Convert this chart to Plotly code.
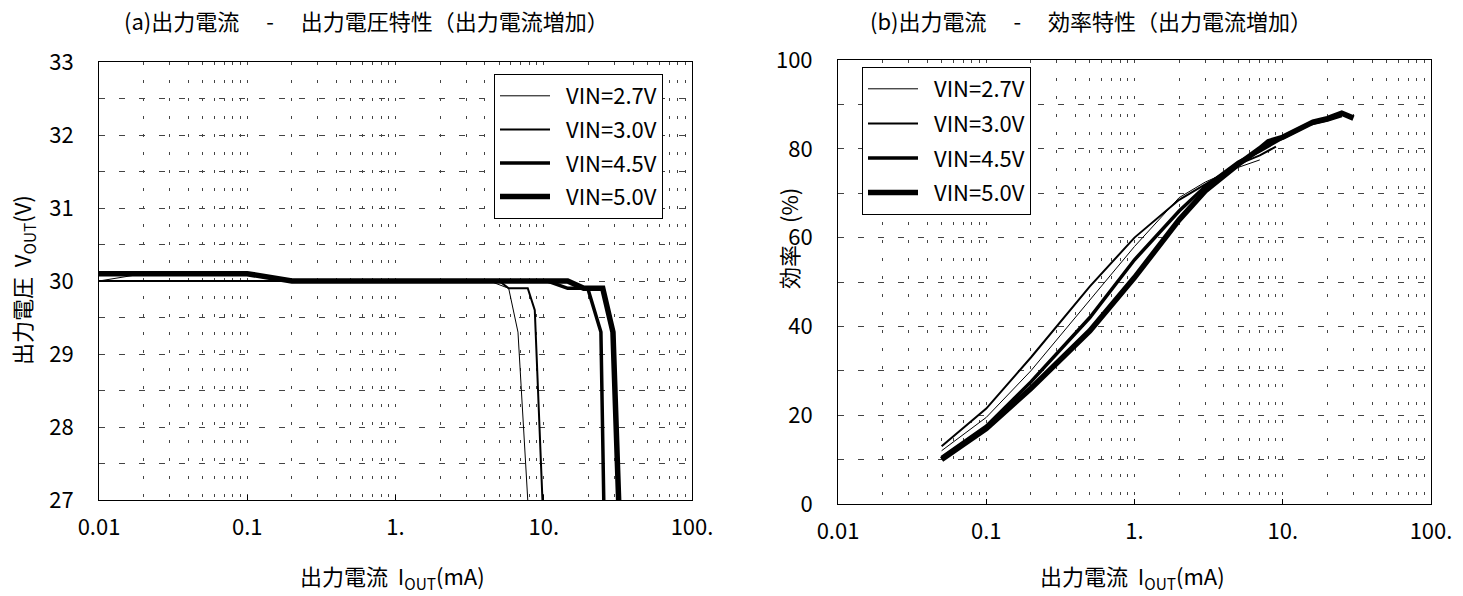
import numpy as np
import plotly.graph_objects as go

# ---------------- data ----------------
legend_names = ["VIN=2.7V", "VIN=3.0V", "VIN=4.5V", "VIN=5.0V"]

# (a) output current (mA) vs output voltage (V)
a27_i = [0.01, 0.02, 0.05, 0.1, 0.2, 0.5, 1, 2, 4.3, 5.8, 6.7, 7.8]
a27_v = [30.0, 30.1, 30.1, 30.1, 30.0, 30.0, 30.0, 30.0, 30.0, 29.9, 29.3, 27.0]
a30_i = [0.01, 0.02, 0.05, 0.1, 0.2, 0.5, 1, 2, 5.0, 5.8, 7.8, 8.7, 9.8]
a30_v = [30.0, 30.0, 30.0, 30.0, 30.0, 30.0, 30.0, 30.0, 30.0, 29.9, 29.9, 29.6, 27.0]
a45_i = [0.01, 0.02, 0.05, 0.1, 0.2, 0.5, 1, 2, 5, 10.6, 14.5, 19.8, 24.3, 25.4]
a45_v = [30.1, 30.1, 30.1, 30.1, 30.0, 30.0, 30.0, 30.0, 30.0, 30.0, 29.9, 29.9, 29.3, 27.0]
a50_i = [0.01, 0.02, 0.05, 0.1, 0.2, 0.5, 1, 2, 5, 10, 14.5, 18.6, 25, 29.3, 32]
a50_v = [30.1, 30.1, 30.1, 30.1, 30.0, 30.0, 30.0, 30.0, 30.0, 30.0, 30.0, 29.9, 29.9, 29.3, 27.0]

# (b) output current (mA) vs efficiency (%)
b27_i = [0.05, 0.1, 0.2, 0.5, 1, 2, 3, 5, 7]
b27_e = [12.0, 19.5, 30.0, 46.0, 58.0, 69.0, 72.5, 75.8, 77.5]
b30_i = [0.05, 0.1, 0.2, 0.5, 1, 2, 3, 5, 7, 9]
b30_e = [13.0, 21.5, 33.0, 49.0, 60.0, 68.5, 72.0, 76.5, 78.5, 80.5]
b45_i = [0.05, 0.1, 0.2, 0.5, 1, 2, 3, 5, 7, 10, 15, 20, 25]
b45_e = [10.5, 17.5, 27.5, 42.0, 55.0, 66.0, 71.5, 77.0, 79.5, 82.5, 85.5, 86.5, 87.5]
b50_i = [0.05, 0.1, 0.2, 0.5, 1, 2, 3, 5, 7, 8, 10, 12, 16, 20, 25, 30]
b50_e = [10.0, 17.0, 26.0, 39.0, 51.0, 64.0, 70.5, 76.5, 80.0, 81.6, 82.6, 84.0, 86.0, 86.8, 88.0, 86.9]

x_tickvals = [0.01, 0.1, 1, 10, 100]
x_ticktext = ["0.01", "0.1", "1.", "10.", "100."]
ya_tickvals = [27, 28, 29, 30, 31, 32, 33]
yb_tickvals = [0, 20, 40, 60, 80, 100]

title_a = "(a)出力電流　 - 　出力電圧特性（出力電流増加）"
title_b = "(b)出力電流　 - 　効率特性（出力電流増加）"
xtitle = "出力電流  I<sub>OUT</sub>(mA)"
ytitle_a = "出力電圧  V<sub>OUT</sub>(V)"
ytitle_b = "効率　(%)"

# ---------------- styling ----------------
W, H = 1463, 596
FONT = "Noto Sans CJK JP"
widths = [1, 2, 3.5, 5.5]
minor_vals = [d * k for d in [0.01, 0.1, 1, 10] for k in range(2, 10)]
GRID = "#444"

fig = go.Figure()

left = [(a27_i, a27_v), (a30_i, a30_v), (a45_i, a45_v), (a50_i, a50_v)]
right = [(b27_i, b27_e), (b30_i, b30_e), (b45_i, b45_e), (b50_i, b50_e)]

for k, (xs, ys) in enumerate(left):
    fig.add_trace(go.Scatter(x=xs, y=ys, mode="lines", name="\u2002" + legend_names[k],
                             line=dict(color="black", width=widths[k]),
                             xaxis="x", yaxis="y", legend="legend",
                             legendgroup="a%d" % k))
for k, (xs, ys) in enumerate(right):
    fig.add_trace(go.Scatter(x=xs, y=ys, mode="lines", name="\u2002" + legend_names[k],
                             line=dict(color="black", width=widths[k]),
                             xaxis="x2", yaxis="y2", legend="legend2",
                             legendgroup="b%d" % k))


def xaxis_cfg(domain, anchor):
    return dict(type="log", range=[-2, 2], domain=domain, anchor=anchor,
                automargin=False,
                tickmode="array", tickvals=x_tickvals, ticktext=x_ticktext,
                showgrid=True, gridcolor=GRID, griddash="3px,15px", gridwidth=1,
                minor=dict(tickmode="array", tickvals=minor_vals, showgrid=True,
                           gridcolor=GRID, griddash="3px,15px", gridwidth=1),
                showline=True, mirror=True, linecolor="black", linewidth=1,
                ticks="inside", ticklen=5, tickcolor="black",
                ticklabelstandoff=8,
                tickfont=dict(family=FONT, size=22, color="black"),
                zeroline=False)


def yaxis_cfg(domain, anchor, rng, tickvals, minor_dtick):
    return dict(range=rng, domain=domain, anchor=anchor,
                automargin=False,
                tickmode="array", tickvals=tickvals,
                showgrid=True, gridcolor=GRID, griddash="6px,14px", gridwidth=1,
                minor=dict(dtick=minor_dtick, showgrid=True, gridcolor=GRID,
                           griddash="6px,14px", gridwidth=1),
                showline=True, mirror=True, linecolor="black", linewidth=1,
                ticks="", ticklabelstandoff=20,
                tickfont=dict(family=FONT, size=22, color="black"),
                zeroline=False)


fig.update_layout(
    template="none",
    width=W, height=H,
    margin=dict(l=0, r=0, t=0, b=0, pad=0),
    paper_bgcolor="white", plot_bgcolor="white",
    font=dict(family=FONT, size=22, color="black"),
    xaxis=xaxis_cfg([99 / W, 692 / W], "y"),
    yaxis=yaxis_cfg([(H - 500) / H, (H - 62) / H], "x", [27, 33], ya_tickvals, 0.5),
    xaxis2=xaxis_cfg([838 / W, 1431 / W], "y2"),
    yaxis2=yaxis_cfg([(H - 504) / H, (H - 60) / H], "x2", [0, 100], yb_tickvals, 10),
    legend=dict(x=494 / W, y=(H - 74) / H, xanchor="left", yanchor="top",
                bgcolor="white", bordercolor="black", borderwidth=1,
                font=dict(family=FONT, size=22, color="black"),
                itemwidth=50, tracegroupgap=2),
    legend2=dict(x=862 / W, y=(H - 67) / H, xanchor="left", yanchor="top",
                 bgcolor="white", bordercolor="black", borderwidth=1,
                 font=dict(family=FONT, size=22, color="black"),
                 itemwidth=50, tracegroupgap=3),
    showlegend=True,
)

ann = dict(xref="paper", yref="paper", showarrow=False, xanchor="center",
           yanchor="middle", font=dict(family=FONT, size=22, color="black"))
fig.add_annotation(text=title_a, x=366 / W, y=(H - 20) / H, **ann)
fig.add_annotation(text=title_b, x=1091 / W, y=(H - 20) / H, **ann)
fig.add_annotation(text=xtitle, x=392 / W, y=(H - 576) / H, **ann)
fig.add_annotation(text=xtitle, x=1132 / W, y=(H - 576) / H, **ann)
fig.add_annotation(text=ytitle_a, x=22 / W, y=(H - 280) / H, textangle=-90, **ann)
fig.add_annotation(text=ytitle_b, x=788 / W, y=(H - 239) / H, textangle=-90, **ann)

fig.write_html("out.html",
               config={"displayModeBar": False},
               post_script="document.body.style.margin='0px';"
                           "document.body.style.overflow='hidden';")
